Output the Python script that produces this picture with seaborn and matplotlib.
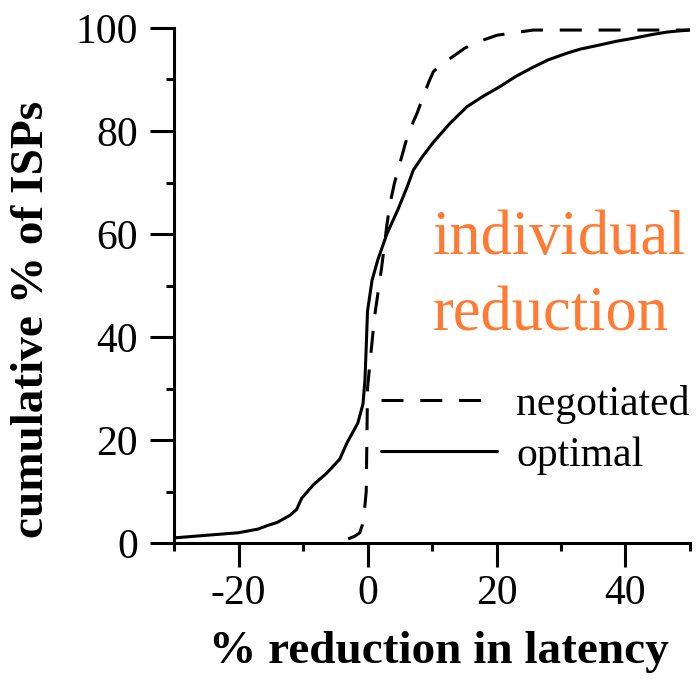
import matplotlib
matplotlib.use('Agg')
import matplotlib.pyplot as plt
import seaborn as sns

# optimal curve (x = % reduction, y = cumulative %)
opt_x = [-30, -25, -20, -17, -15.5, -14, -12, -11, -10.2, -8.4, -6.3, -4.3, -3.2, -1.5,
         -0.7, -0.4, -0.2, 0, 0.7, 1.6, 3.0, 4.7, 6.1, 7.1, 8.5, 10.2, 12.8, 15.4, 18,
         20.5, 23, 25.7, 28, 30.9, 33, 36, 38.5, 41.2, 44, 46.4, 48, 50]
opt_y = [1.0, 1.5, 2.0, 2.7, 3.4, 4.0, 5.4, 6.5, 8.7, 11.3, 13.6, 16.3, 19.4, 23.3,
         27, 31.6, 38, 45, 51, 55, 60, 64.7, 69, 72.4, 75, 77.8, 81.5, 84.7, 86.8,
         88.6, 90.6, 92.4, 93.8, 95.1, 95.9, 96.7, 97.4, 98, 98.7, 99.2, 99.4, 99.6]

# negotiated curve
neg_x = [-3.0, -2.0, -1.2, -0.8, -0.5, -0.2, -0.1, 0.0, 0.3, 1.1, 2.2, 3.0, 3.5, 4.2,
         5.3, 6.3, 7.7, 8.6, 9.5, 10.2, 11.3, 12.5, 15.1, 17.1, 20.1, 22.9, 25.7, 50]
neg_y = [0.8, 1.3, 2.0, 3.5, 6.0, 10, 20, 30, 34, 44, 53.6, 61.7, 66, 70,
         75, 79.5, 83.5, 86.6, 89.5, 91.5, 92.8, 93.8, 96.1, 97.3, 98.6, 99.1, 99.6, 99.6]

sns.set_style('ticks', {'axes.edgecolor': 'black', 'text.color': 'black',
                        'xtick.color': 'black', 'ytick.color': 'black',
                        'axes.labelcolor': 'black'})
plt.rcParams['font.family'] = ['Liberation Serif', 'DejaVu Serif']
plt.rcParams['axes.unicode_minus'] = False

fig = plt.figure(figsize=(7, 6.81), dpi=100)
ax = fig.add_axes([0.2486, 0.2026, 0.7371, 0.7563])

sns.lineplot(x=neg_x, y=neg_y, ax=ax, color='black', lw=2.2, estimator=None,
             sort=False, linestyle=(0, (7.2, 5.5)), label='negotiated')
sns.lineplot(x=opt_x, y=opt_y, ax=ax, color='black', lw=2.2, estimator=None,
             sort=False, label='optimal')

ax.set_xlim(-30, 50)
ax.set_ylim(0, 100)
ax.set_xticks([-20, 0, 20, 40])
ax.set_xticks([-30, -10, 10, 30, 50], minor=True)
ax.set_yticks([0, 20, 40, 60, 80, 100])
ax.set_yticks([10, 30, 50, 70, 90], minor=True)
sns.despine(ax=ax)
for s in ['left', 'bottom']:
    ax.spines[s].set_linewidth(2.2)
ax.tick_params(which='major', length=17, width=2.2, labelsize=30, pad=6)
ax.tick_params(which='minor', length=6, width=2.2)
ax.tick_params(axis='y', which='major', pad=9)

ax.set_xlabel('% reduction in latency', fontsize=34, fontweight='bold')
ax.set_ylabel('cumulative % of ISPs', fontsize=34, fontweight='bold')
ax.xaxis.set_label_coords(0.514, -0.17)
ax.yaxis.set_label_coords(-0.235, 0.435)

ax.text(0.502, 0.4136, 'individual\nreduction', transform=ax.transAxes, fontsize=45,
        color='#ff7b33', ha='left', va='baseline', linespacing=1.42)

leg = ax.legend(loc='upper left', bbox_to_anchor=(0.368, 0.34), frameon=False,
                fontsize=30, handlelength=2.8, handletextpad=0.45,
                labelspacing=0.3, borderaxespad=0)

fig.savefig('out.png', dpi=100)
